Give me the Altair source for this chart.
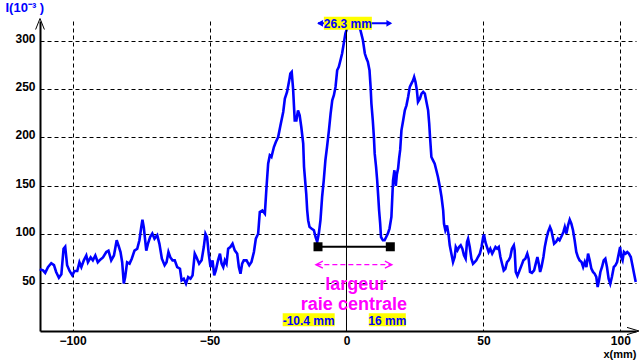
import altair as alt
import pandas as pd

# ---------------- data ----------------
X_MM = [-112.0, -110.8, -110.0, -109.0, -107.8, -106.8, -106.0, -105.0, -104.1, -103.3,
        -102.7, -102.0, -101.1, -100.1, -99.3, -98.3, -97.5, -96.8, -95.9, -95.0,
        -94.4, -93.4, -92.6, -91.7, -90.8, -89.8, -88.9, -87.7, -86.9, -85.9,
        -84.9, -83.9, -83.1, -82.5, -81.9, -81.3, -80.8, -80.1, -79.2, -78.4,
        -77.4, -76.4, -75.6, -74.95, -74.5, -74.0, -73.1, -72.5, -71.7, -70.9,
        -70.1, -69.1, -68.3, -67.4, -66.4, -65.7, -65.0, -64.3, -63.5, -62.7,
        -61.8, -60.8, -60.2, -59.4, -58.6, -57.8, -56.95, -56.2, -55.4, -54.8,
        -53.8, -52.9, -52.1, -51.5, -50.9, -50.3, -49.65, -48.9, -48.3, -47.7,
        -46.9, -46.2, -45.6, -45.0, -44.4, -43.8, -43.2, -42.4, -41.6, -40.8,
        -39.9, -39.3, -38.7, -38.1, -37.5, -36.5, -35.5, -34.7, -33.8, -33.1,
        -32.25, -31.65, -30.7, -29.8, -29.2, -28.6, -28.0, -27.4, -26.5, -25.8,
        -24.95, -24.1, -23.1, -22.5, -21.7, -20.9, -20.5, -20.0, -19.5, -18.9,
        -18.3, -17.7, -17.1, -16.5, -15.8, -15.5, -15.2, -14.7, -14.35, -14.0,
        -13.5, -12.8, -11.9, -11.3, -10.7, -10.1, -9.5, -8.9, -8.3, -7.7,
        -7.1, -6.4, -5.8, -5.2, -4.6, -4.0, -3.4, -2.8, -2.2, -1.6,
        -1.0, -0.4, 0.2, 0.85, 2.0, 3.5, 4.5, 5.1, 6.0, 6.7,
        7.3, 7.8, 8.4, 8.8, 9.1, 9.6, 10.0, 10.3, 10.8, 11.2,
        11.6, 11.9, 12.3, 12.6, 13.3, 13.9, 14.5, 15.1, 15.7, 16.4,
        17.0, 17.5, 18.0, 18.4, 18.85, 19.2, 19.6, 20.06, 20.7, 21.3,
        21.9, 22.5, 23.1, 23.7, 24.3, 24.7, 25.2, 25.7, 26.1, 26.8,
        27.4, 28.0, 28.6, 29.2, 29.8, 30.2, 30.5, 31.0, 31.6, 32.2,
        32.8, 33.4, 34.1, 34.7, 35.3, 35.6, 36.1, 36.7, 37.3, 37.7,
        38.3, 38.9, 39.5, 39.9, 40.5, 41.1, 41.7, 42.3, 42.9, 43.5,
        44.0, 44.4, 45.0, 45.6, 46.2, 46.8, 47.4, 48.0, 48.7, 49.3,
        49.9, 50.2, 50.7, 51.3, 51.9, 52.5, 53.2, 53.8, 54.4, 55.0,
        55.6, 56.2, 56.8, 57.4, 58.0, 58.6, 59.2, 59.8, 60.4, 61.1,
        61.4, 61.8, 62.4, 63.1, 63.9, 64.6, 65.3, 66.0, 66.5, 67.0,
        67.7, 68.5, 69.1, 69.7, 70.2, 70.7, 71.2, 71.9, 72.4, 73.0,
        73.6, 74.3, 74.8, 75.3, 75.8, 76.5, 77.2, 77.8, 78.5, 79.2,
        79.7, 80.3, 80.9, 81.5, 82.1, 82.7, 83.3, 83.9, 84.5, 85.1,
        85.8, 86.4, 87.0, 87.6, 88.2, 88.8, 89.4, 90.0, 90.6, 91.2,
        91.7, 92.2, 92.7, 93.3, 93.9, 94.5, 95.1, 95.7, 96.3, 96.9,
        97.6, 98.2, 98.8, 99.4, 99.9, 100.3, 100.8, 101.3, 101.9, 102.5,
        103.1, 103.8, 104.4, 105.0, 105.6]

I_VAL = [63.7, 62.7, 60.0, 66.0, 70.0, 68.0, 61.0, 55.0, 58.5, 85.0,
         87.0, 68.0, 62.0, 57.5, 62.0, 62.0, 71.0, 66.0, 73.0, 78.0,
         71.0, 76.0, 73.0, 78.0, 71.0, 74.0, 76.0, 81.6, 83.0, 73.0,
         78.0, 93.7, 87.0, 81.6, 71.0, 49.0, 55.8, 71.0, 69.6, 74.7,
         83.0, 85.0, 93.7, 107.0, 115.0, 107.0, 83.0, 90.0, 97.0, 100.6,
         95.4, 99.0, 90.0, 74.7, 68.0, 71.0, 81.6, 76.0, 73.0, 73.0,
         66.0, 64.3, 52.3, 54.0, 48.9, 55.7, 54.0, 57.5, 79.9, 76.4,
         69.5, 73.0, 86.7, 100.5, 97.0, 79.9, 66.0, 73.0, 57.5, 62.6,
         73.0, 79.9, 69.5, 66.0, 73.0, 69.5, 85.0, 86.7, 90.2, 83.3,
         79.9, 66.0, 59.2, 69.5, 73.0, 73.0, 67.8, 71.2, 81.6, 95.3,
         100.5, 122.9, 124.6, 121.2, 148.7, 172.8, 181.4, 179.7, 190.0, 195.2,
         200.4, 212.4, 226.2, 240.0, 246.9, 258.9, 265.8, 267.5, 250.3, 217.6,
         217.6, 227.9, 222.8, 210.7, 193.5, 169.4, 159.0, 142.0, 124.7, 114.4,
         107.5, 105.8, 104.0, 97.1, 92.0, 100.6, 114.4, 138.5, 155.7, 176.4,
         190.1, 207.4, 224.6, 238.3, 243.5, 252.1, 269.3, 272.8, 279.7, 286.6,
         296.9, 307.2, 312.4, 314.0, 318.0, 317.0, 314.0, 310.7, 300.3, 286.6,
         281.4, 278.0, 269.3, 252.1, 234.9, 217.7, 200.5, 183.2, 169.5, 155.7,
         138.5, 124.7, 110.9, 97.1, 93.7, 93.7, 97.1, 100.6, 105.8, 117.8,
         155.7, 166.0, 150.0, 162.0, 168.0, 178.0, 187.0, 207.3, 217.6, 227.9,
         233.1, 241.7, 252.0, 255.5, 258.9, 262.4, 257.2, 248.6, 236.6, 240.0,
         245.2, 246.9, 245.2, 236.6, 227.9, 214.2, 200.4, 179.7, 176.3, 172.8,
         166.0, 159.1, 148.7, 138.4, 124.6, 110.8, 104.0, 109.1, 98.8, 88.5,
         79.9, 71.2, 76.4, 86.7, 83.3, 86.7, 88.5, 85.0, 78.1, 74.7,
         91.9, 95.3, 86.7, 74.7, 69.5, 71.2, 73.0, 76.4, 79.9, 86.7,
         97.1, 99.8, 91.9, 86.7, 81.6, 85.0, 79.9, 83.3, 86.7, 85.0,
         86.7, 76.4, 69.5, 62.6, 64.3, 71.2, 73.0, 76.4, 85.0, 88.5,
         83.3, 61.0, 57.0, 62.0, 67.8, 73.0, 74.7, 79.9, 74.7, 61.0,
         60.0, 62.7, 69.6, 76.4, 69.6, 61.0, 66.1, 76.4, 86.8, 95.4,
         102.3, 107.4, 104.0, 97.1, 90.2, 92.0, 95.4, 93.7, 97.8, 102.3,
         107.4, 100.6, 109.2, 115.0, 110.9, 104.0, 93.7, 81.6, 76.4, 73.0,
         71.3, 66.1, 71.3, 66.1, 79.9, 73.0, 64.4, 61.0, 59.2, 55.8,
         45.5, 52.3, 61.0, 66.1, 73.0, 74.7, 66.1, 54.1, 48.9, 55.8,
         66.1, 67.8, 71.3, 79.9, 86.8, 76.4, 73.0, 81.6, 79.9, 81.6,
         79.9, 76.4, 67.8, 59.2, 50.6]

X_TICKS = [-100, -50, 0, 50, 100]
Y_TICKS = [50, 100, 150, 200, 250, 300]
X_DOMAIN = [-111.9, 105.7]
Y_DOMAIN = [0, 320.2]

Y_TITLE = "I(10\u207b\u00b3 )"
X_TITLE = "x(mm)"

LEFT_EDGE = -10.4
RIGHT_EDGE = 16.0
EDGE_LEVEL = 87
WIDTH_LABEL = "26.3 mm"
LEFT_LABEL = "-10.4 mm"
RIGHT_LABEL = "16 mm"
CAPTION = ["largeur", "raie centrale"]
CENTER_LINE_TOP = 312

# ---------------- layout / style ----------------
W, H = 596, 310
PX_X = W / (X_DOMAIN[1] - X_DOMAIN[0])
PX_Y = H / (Y_DOMAIN[1] - Y_DOMAIN[0])
FONT = "Liberation Sans"
BLUE = "#0000ff"
MAGENTA = "#ff00ff"
YELLOW = "#ffff00"

WIDTH_ARROW_LEVEL = 317.8
DASH_ARROW_LEVEL = 68.5
CAPTION_X = [3.4, 2.7]
CAPTION_Y = [47.2, 26.5]
BOTTOM_LABEL_LEVEL = 11.6

xscale = alt.Scale(domain=X_DOMAIN, nice=False, zero=False)
yscale = alt.Scale(domain=Y_DOMAIN, nice=False, zero=False)
xaxis = alt.Axis(values=X_TICKS, grid=True, gridColor="black", gridDash=[4, 3],
                 gridWidth=1, gridOpacity=1, ticks=False, domainColor="black",
                 domainWidth=2, labelFont=FONT, labelFontWeight="bold",
                 labelFontSize=12, labelColor="black", labelPadding=4,
                 labelFlush=False, labelOverlap=False,
                 title=X_TITLE, titleFont=FONT, titleFontSize=11,
                 titleFontWeight="bold", titleColor="black", titleAlign="right",
                 titleBaseline="middle", titleX=W, titleY=23, titleAnchor="end")
yaxis = alt.Axis(values=Y_TICKS, grid=True, gridColor="black", gridDash=[4, 3],
                 gridWidth=1, gridOpacity=1, ticks=False, domainColor="black",
                 domainWidth=2, labelFont=FONT, labelFontWeight="bold",
                 labelFontSize=12, labelColor="black", labelPadding=5,
                 labelBaseline="alphabetic", labelOffset=1.5, labelOverlap=False,
                 labelFlush=False,
                 title=Y_TITLE, titleFont=FONT, titleFontSize=13,
                 titleFontWeight="bold", titleColor=BLUE, titleAngle=0,
                 titleAlign="left", titleBaseline="middle", titleX=-35, titleY=-14)


def X(f):
    return alt.X(f"{f}:Q", scale=xscale, axis=xaxis)


def Y(f):
    return alt.Y(f"{f}:Q", scale=yscale, axis=yaxis)


curve = alt.Chart(pd.DataFrame({"x": X_MM, "y": I_VAL})).mark_line(
    color=BLUE, strokeWidth=2.6, strokeJoin="miter").encode(x=X("x"), y=Y("y"))

center_line = alt.Chart(pd.DataFrame({"x": [0], "y": [0], "y2": [CENTER_LINE_TOP]})).mark_rule(
    color="black", strokeWidth=1).encode(x=X("x"), y=Y("y"), y2="y2:Q")

seg_df = pd.DataFrame({"x": [LEFT_EDGE], "x2": [RIGHT_EDGE], "y": [EDGE_LEVEL]})
segment = alt.Chart(seg_df).mark_rule(color="black", strokeWidth=2).encode(
    x=X("x"), x2="x2:Q", y=Y("y"))
squares = alt.Chart(pd.DataFrame({"x": [LEFT_EDGE, RIGHT_EDGE], "y": [EDGE_LEVEL] * 2})).mark_square(
    color="black", filled=True, size=81, opacity=1).encode(x=X("x"), y=Y("y"))

# magenta dashed double arrow
dash_df = pd.DataFrame({"x": [LEFT_EDGE - 0.6], "x2": [RIGHT_EDGE + 0.4], "y": [DASH_ARROW_LEVEL]})
dash_rule = alt.Chart(dash_df).mark_rule(color=MAGENTA, strokeWidth=1.3, strokeDash=[5, 3]).encode(
    x=X("x"), x2="x2:Q", y=Y("y"))
dash_left = alt.Chart(pd.DataFrame({"x": [LEFT_EDGE - 0.6], "y": [DASH_ARROW_LEVEL]})).mark_point(
    shape="M1,-1L-1,0L1,1", filled=False, stroke=MAGENTA, strokeWidth=1.3, size=49,
    xOffset=3, opacity=1).encode(x=X("x"), y=Y("y"))
dash_right = alt.Chart(pd.DataFrame({"x": [RIGHT_EDGE + 0.4], "y": [DASH_ARROW_LEVEL]})).mark_point(
    shape="M-1,-1L1,0L-1,1", filled=False, stroke=MAGENTA, strokeWidth=1.3, size=49,
    xOffset=-3, opacity=1).encode(x=X("x"), y=Y("y"))

caption = alt.Chart(pd.DataFrame({"x": CAPTION_X, "y": CAPTION_Y, "t": CAPTION})).mark_text(
    color=MAGENTA, font=FONT, fontWeight="bold", fontSize=18, baseline="middle",
    align="center").encode(x=X("x"), y=Y("y"), text="t:N")

# top blue double arrow
top_df = pd.DataFrame({"x": [LEFT_EDGE], "x2": [RIGHT_EDGE], "y": [WIDTH_ARROW_LEVEL]})
top_rule = alt.Chart(top_df).mark_rule(color=BLUE, strokeWidth=2).encode(
    x=X("x"), x2="x2:Q", y=Y("y"))
top_left = alt.Chart(pd.DataFrame({"x": [LEFT_EDGE], "y": [WIDTH_ARROW_LEVEL]})).mark_point(
    shape="triangle-left", filled=True, color=BLUE, size=45, opacity=1, xOffset=2).encode(
    x=X("x"), y=Y("y"))
top_right = alt.Chart(pd.DataFrame({"x": [RIGHT_EDGE], "y": [WIDTH_ARROW_LEVEL]})).mark_point(
    shape="triangle-right", filled=True, color=BLUE, size=45, opacity=1, xOffset=-1).encode(
    x=X("x"), y=Y("y"))

# yellow labels
BOX_CENTERS_X = [0.5, -13.8, 14.9]
BOX_CENTERS_Y = [WIDTH_ARROW_LEVEL, BOTTOM_LABEL_LEVEL, BOTTOM_LABEL_LEVEL]
BOX_TEXTS = [WIDTH_LABEL, LEFT_LABEL, RIGHT_LABEL]
BOX_W_PX = [48, 52, 37]
BOX_H_PX = 13
box_df = pd.DataFrame({
    "x": [c - w / 2 / PX_X for c, w in zip(BOX_CENTERS_X, BOX_W_PX)],
    "x2": [c + w / 2 / PX_X for c, w in zip(BOX_CENTERS_X, BOX_W_PX)],
    "y": [c - BOX_H_PX / 2 / PX_Y for c in BOX_CENTERS_Y],
    "y2": [c + BOX_H_PX / 2 / PX_Y for c in BOX_CENTERS_Y],
    "cx": BOX_CENTERS_X, "cy": BOX_CENTERS_Y, "t": BOX_TEXTS,
})
boxes = alt.Chart(box_df).mark_rect(color=YELLOW, opacity=1).encode(
    x=X("x"), x2="x2:Q", y=Y("y"), y2="y2:Q")
box_text = alt.Chart(box_df).mark_text(
    color=BLUE, font=FONT, fontWeight="bold", fontSize=12, baseline="middle",
    align="center", dy=1).encode(x=X("cx"), y=Y("cy"), text="t:N")

# axis arrowheads
y_arrow = alt.Chart(pd.DataFrame({"x": [X_DOMAIN[0]], "y": [Y_DOMAIN[1]]})).mark_point(
    shape="M-0.8,1L0,-1L0.8,1", filled=False, stroke="black", strokeWidth=1, size=121,
    yOffset=3, opacity=1).encode(x=X("x"), y=Y("y"))
x_arrow = alt.Chart(pd.DataFrame({"x": [X_DOMAIN[1]], "y": [Y_DOMAIN[0]]})).mark_point(
    shape="M-1,-0.6L1,0L-1,0.6", filled=False, stroke="black", strokeWidth=1, size=144,
    xOffset=-3, opacity=1).encode(x=X("x"), y=Y("y"))

chart = alt.layer(
    curve, center_line, segment, squares, dash_rule, dash_left, dash_right, caption,
    top_rule, top_left, top_right, boxes, box_text, y_arrow, x_arrow
).properties(
    width=W, height=H,
    padding={"left": 40, "top": 21, "right": 4, "bottom": 29},
    autosize=alt.AutoSizeParams(type="none"),
    background="white",
).configure_view(stroke="transparent")

chart.save("out.html", embed_options={"renderer": "svg", "actions": False})
